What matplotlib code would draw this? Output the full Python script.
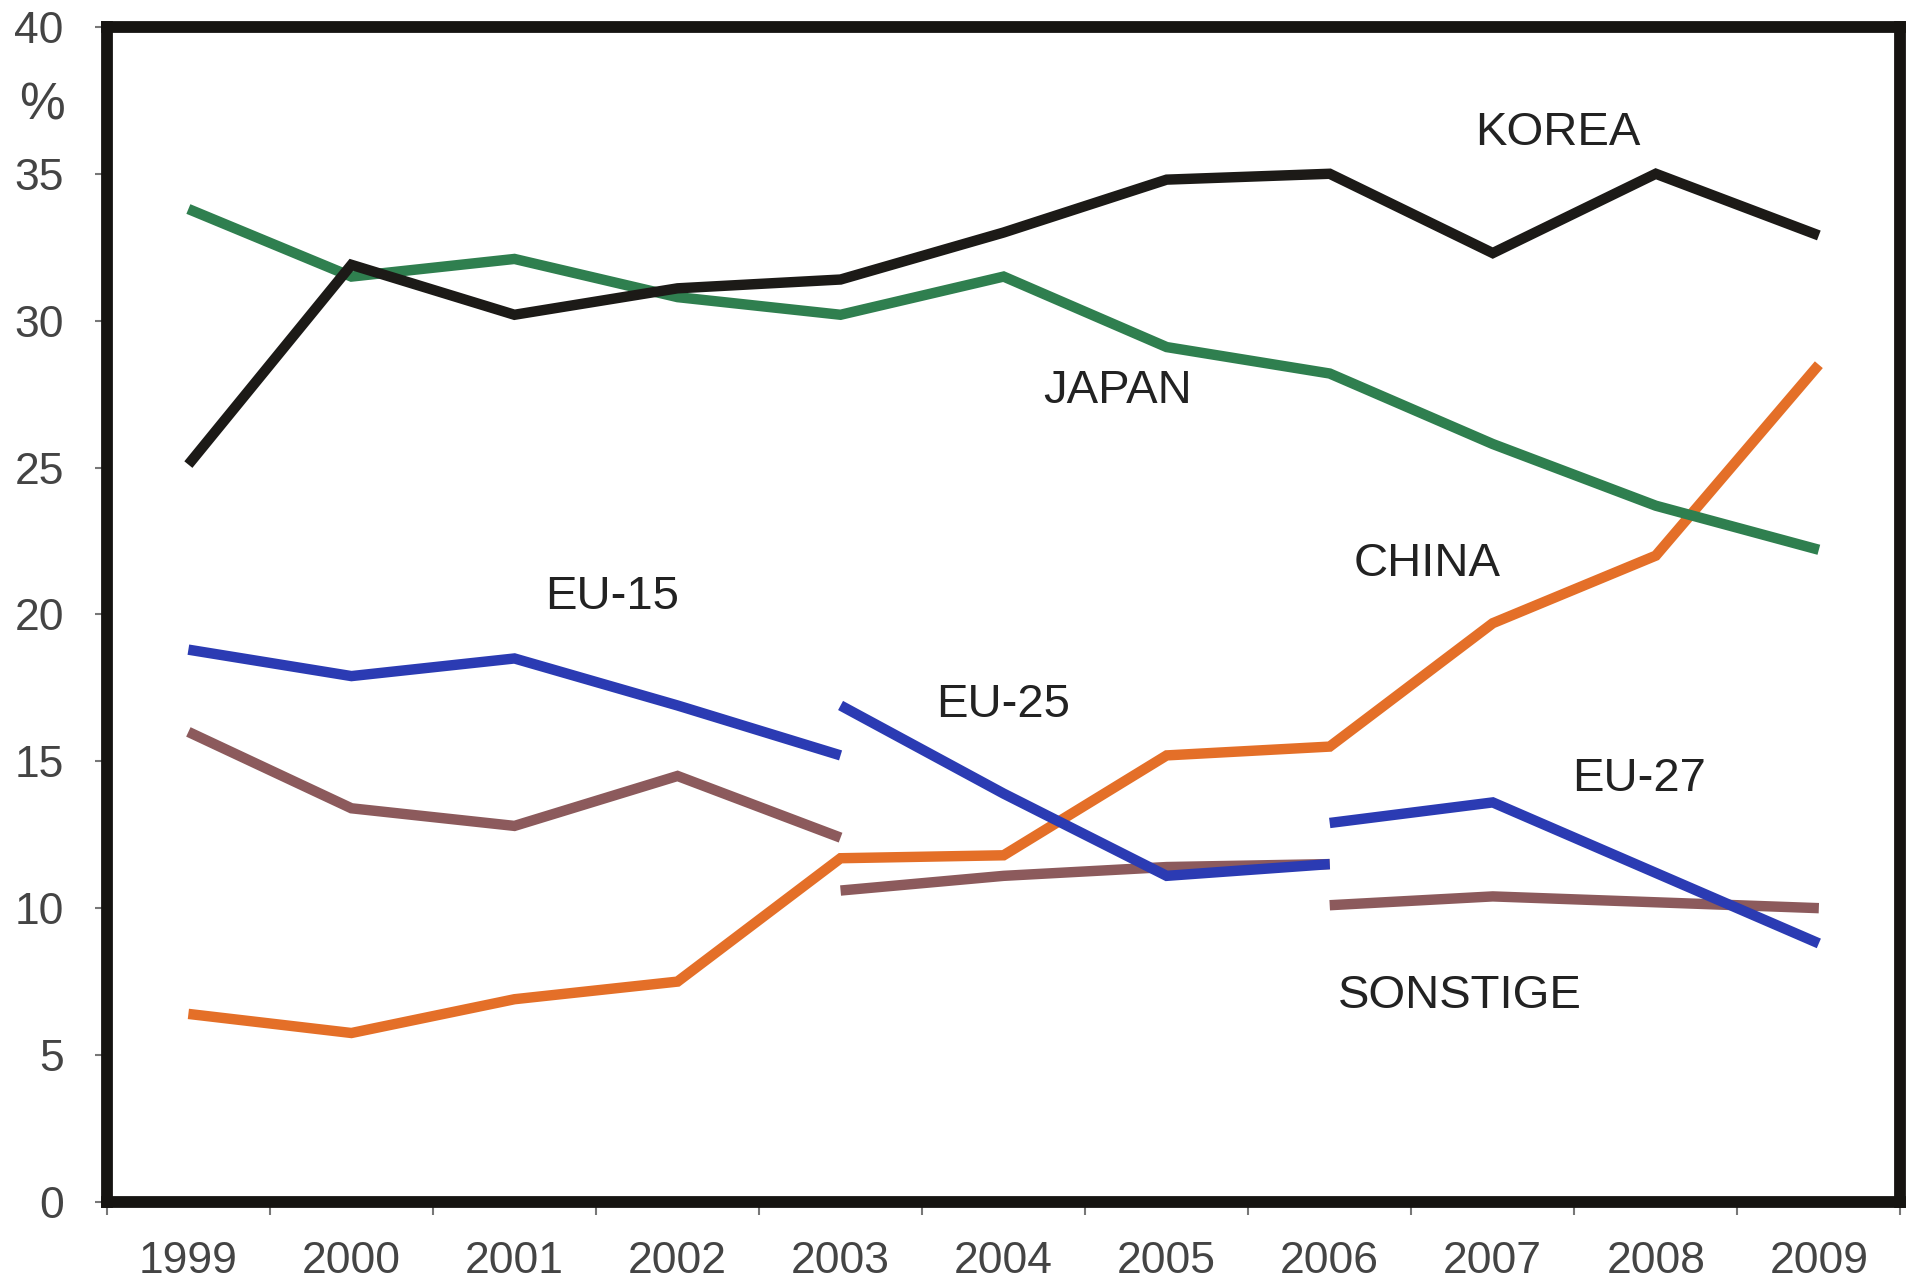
import numpy as np
import matplotlib.pyplot as plt

plt.rcParams['font.family'] = ['Liberation Sans', 'DejaVu Sans']

years = np.arange(1999, 2010)

korea = [25.1, 31.9, 30.2, 31.1, 31.4, 33.0, 34.8, 35.0, 32.3, 35.0, 32.9]
japan = [33.8, 31.5, 32.1, 30.8, 30.2, 31.5, 29.1, 28.2, 25.8, 23.7, 22.2]
china = [6.4, 5.75, 6.9, 7.5, 11.7, 11.8, 15.2, 15.5, 19.7, 22.0, 28.5]

# EU series change membership, so each block is its own segment
eu15_years = [1999, 2000, 2001, 2002, 2003]
eu15 = [18.8, 17.9, 18.5, 16.9, 15.2]
eu25_years = [2003, 2004, 2005, 2006]
eu25 = [16.9, 13.9, 11.1, 11.5]
eu27_years = [2006, 2007, 2008, 2009]
eu27 = [12.9, 13.6, 11.2, 8.8]

sonst1 = [16.0, 13.4, 12.8, 14.5, 12.4]
sonst2 = [10.6, 11.1, 11.4, 11.5]
sonst3 = [10.1, 10.4, 10.2, 10.0]

c_korea = '#1c1a17'
c_japan = '#2f7f4f'
c_china = '#e46f28'
c_eu = '#2b3bb3'
c_sonst = '#8c5a5c'

fig = plt.figure(figsize=(19.08, 12.8), dpi=100)
ax = fig.add_axes([0.056, 0.061, 0.94, 0.918])

lw = 7.5
kw = dict(lw=lw, solid_capstyle='butt', solid_joinstyle='miter')
ax.plot(eu15_years, sonst1, color=c_sonst, **kw)
ax.plot(eu25_years, sonst2, color=c_sonst, **kw)
ax.plot(eu27_years, sonst3, color=c_sonst, **kw)
ax.plot(years, china, color=c_china, **kw)
ax.plot(eu15_years, eu15, color=c_eu, **kw)
ax.plot(eu25_years, eu25, color=c_eu, **kw)
ax.plot(eu27_years, eu27, color=c_eu, **kw)
ax.plot(years, japan, color=c_japan, **kw)
ax.plot(years, korea, color=c_korea, **kw)

labels = [
    ('KOREA', 2007.4, 36.4),
    ('JAPAN', 2004.7, 27.6),
    ('CHINA', 2006.6, 21.7),
    ('EU-15', 2001.6, 20.6),
    ('EU-25', 2004.0, 16.9),
    ('EU-27', 2007.9, 14.4),
    ('SONSTIGE', 2006.8, 7.0),
]
for txt, x, y in labels:
    ax.text(x, y, txt, fontsize=34, color='#222222', ha='center', va='center')

ax.set_xlim(1998.5, 2009.5)
ax.set_ylim(0, 40)
ax.set_yticks(np.arange(0, 41, 5))
ax.set_xticks(years)
ax.set_xticks(np.arange(1998.5, 2010, 1), minor=True)
ax.tick_params(axis='x', which='major', length=0, pad=28,
               labelsize=32, labelcolor='#444444')
ax.tick_params(axis='x', which='minor', length=9, width=1.5,
               direction='out', color='#777777')
ax.tick_params(axis='y', length=9, width=1.5, direction='out', color='#777777',
               pad=22, labelsize=32, labelcolor='#444444')

ax.text(-0.036, 37.3, '%', transform=ax.get_yaxis_transform(),
        fontsize=37, color='#444444', ha='center', va='center')

for s in ax.spines.values():
    s.set_linewidth(8.5)
    s.set_color('#161411')

fig.savefig('out.png', dpi=100)
